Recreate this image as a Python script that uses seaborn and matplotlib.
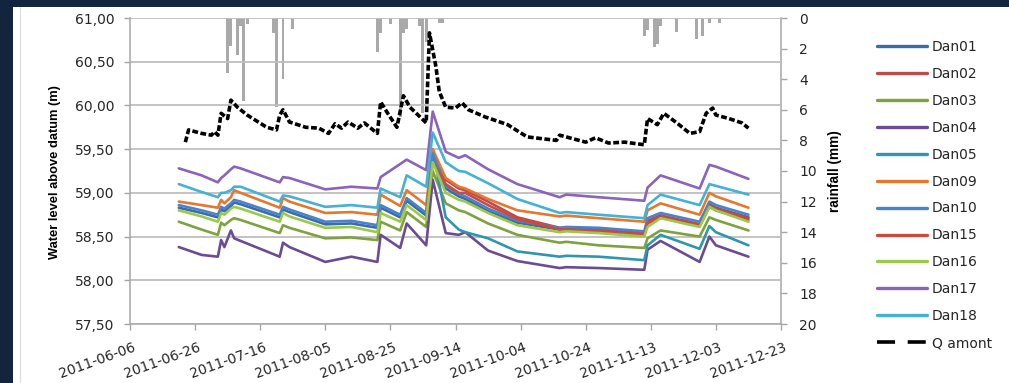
import matplotlib
matplotlib.use("Agg")
import matplotlib.pyplot as plt
import matplotlib.transforms as mtransforms
from matplotlib.lines import Line2D
from matplotlib.patches import Rectangle
import pandas as pd
import seaborn as sns

# ---------------- data ----------------
DATES = ['2011-06-21', '2011-06-28', '2011-07-03', '2011-07-04', '2011-07-05', '2011-07-07',
         '2011-07-08', '2011-07-10', '2011-07-22', '2011-07-23', '2011-07-25', '2011-08-05',
         '2011-08-13', '2011-08-21', '2011-08-22', '2011-08-28', '2011-08-30', '2011-09-05',
         '2011-09-07', '2011-09-11', '2011-09-15', '2011-09-17', '2011-09-24', '2011-10-03',
         '2011-10-16', '2011-10-18', '2011-10-28', '2011-11-11', '2011-11-12', '2011-11-16',
         '2011-11-28', '2011-12-01', '2011-12-03', '2011-12-13']

DAN01 = [58.83, 58.77, 58.72, 58.81, 58.79, 58.85, 58.89, 58.87, 58.72, 58.81, 58.78, 58.64,
         58.65, 58.60, 58.83, 58.72, 58.91, 58.74, 59.42, 59.05, 58.96, 58.93, 58.79, 58.66,
         58.58, 58.59, 58.57, 58.53, 58.68, 58.74, 58.64, 58.87, 58.83, 58.72]
DAN02 = [None, None, None, None, None, None, None, None, None, None, None, None,
         None, None, None, None, None, 58.75, 59.40, 59.15, 59.05, 59.03, 58.90, 58.72,
         58.60, 58.60, 58.58, 58.54, 58.67, 58.74, 58.64, 58.86, 58.82, 58.71]
DAN03 = [58.67, 58.58, 58.52, 58.66, 58.63, 58.69, 58.71, 58.69, 58.54, 58.63, 58.60, 58.48,
         58.49, 58.46, 58.67, 58.57, 58.78, 58.61, 59.25, 58.88, 58.80, 58.78, 58.65, 58.52,
         58.43, 58.44, 58.40, 58.37, 58.48, 58.57, 58.50, 58.72, 58.69, 58.57]
DAN04 = [58.38, 58.29, 58.27, 58.46, 58.38, 58.57, 58.48, 58.45, 58.27, 58.43, 58.38, 58.21,
         58.27, 58.21, 58.52, 58.37, 58.65, 58.40, 59.15, 58.54, 58.52, 58.55, 58.34, 58.22,
         58.14, 58.15, 58.14, 58.12, 58.35, 58.45, 58.21, 58.50, 58.40, 58.27]
DAN05 = [None, None, None, None, None, None, None, None, None, None, None, None,
         None, None, None, None, None, None, 59.50, 58.72, 58.58, 58.55, 58.48, 58.33,
         58.27, 58.28, 58.27, 58.23, 58.40, 58.52, 58.36, 58.62, 58.55, 58.40]
DAN09 = [58.90, 58.86, 58.83, 58.92, 58.88, 58.95, 59.03, 59.00, 58.83, 58.94, 58.90, 58.77,
         58.78, 58.75, 58.98, 58.85, 59.03, 58.86, 59.50, 59.17, 59.07, 59.05, 58.93, 58.80,
         58.73, 58.74, 58.71, 58.67, 58.80, 58.88, 58.75, 59.00, 58.96, 58.83]
DAN10 = [58.86, 58.80, 58.75, 58.84, 58.82, 58.88, 58.92, 58.90, 58.75, 58.84, 58.81, 58.67,
         58.68, 58.63, 58.86, 58.75, 58.94, 58.77, 59.45, 59.08, 58.99, 58.96, 58.82, 58.68,
         58.60, 58.61, 58.60, 58.56, 58.71, 58.77, 58.67, 58.90, 58.86, 58.75]
DAN15 = [None, None, None, None, None, None, None, None, None, None, None, None,
         None, None, None, None, None, 58.73, 59.35, 59.10, 59.00, 59.00, 58.86, 58.70,
         58.58, 58.58, 58.56, 58.52, 58.65, 58.72, 58.62, 58.84, 58.80, 58.69]
DAN16 = [58.80, 58.73, 58.67, 58.77, 58.75, 58.82, 58.84, 58.82, 58.67, 58.77, 58.73, 58.60,
         58.61, 58.55, 58.77, 58.67, 58.86, 58.69, 59.35, 59.00, 58.92, 58.90, 58.77, 58.63,
         58.55, 58.56, 58.54, 58.50, 58.61, 58.71, 58.61, 58.84, 58.80, 58.67]
DAN17 = [59.28, 59.20, 59.12, 59.17, 59.20, 59.27, 59.30, 59.28, 59.12, 59.18, 59.17, 59.04,
         59.07, 59.05, 59.18, 59.33, 59.38, 59.26, 59.93, 59.47, 59.40, 59.43, 59.27, 59.10,
         58.95, 58.98, 58.95, 58.91, 59.06, 59.20, 59.05, 59.32, 59.30, 59.16]
DAN18 = [59.10, 59.01, 58.95, 59.00, 59.00, 59.03, 59.07, 59.07, 58.90, 58.97, 58.96, 58.84,
         58.86, 58.83, 59.05, 58.95, 59.20, 59.07, 59.69, 59.35, 59.25, 59.24, 59.11, 58.93,
         58.77, 58.78, 58.75, 58.71, 58.86, 58.98, 58.86, 59.10, 59.08, 58.98]

Q_DATES = ['2011-06-23', '2011-06-24', '2011-06-28', '2011-07-01', '2011-07-02', '2011-07-03',
           '2011-07-04', '2011-07-06', '2011-07-07', '2011-07-09', '2011-07-12', '2011-07-18',
           '2011-07-21', '2011-07-22', '2011-07-23', '2011-07-25', '2011-07-30', '2011-08-03',
           '2011-08-06', '2011-08-08', '2011-08-10', '2011-08-12', '2011-08-15', '2011-08-17',
           '2011-08-21', '2011-08-22', '2011-08-24', '2011-08-27', '2011-08-29', '2011-08-31',
           '2011-09-05', '2011-09-06', '2011-09-08', '2011-09-09', '2011-09-11', '2011-09-14',
           '2011-09-16', '2011-09-18', '2011-09-23', '2011-09-30', '2011-10-06', '2011-10-15',
           '2011-10-16', '2011-10-24', '2011-10-27', '2011-10-31', '2011-11-05', '2011-11-11',
           '2011-11-12', '2011-11-15', '2011-11-17', '2011-11-21', '2011-11-25', '2011-11-28',
           '2011-11-30', '2011-12-02', '2011-12-03', '2011-12-07', '2011-12-11', '2011-12-13']
Q_AMONT = [59.58, 59.72, 59.68, 59.66, 59.70, 59.66,
           59.91, 59.85, 60.06, 59.98, 59.89, 59.75,
           59.72, 59.89, 59.95, 59.81, 59.75, 59.74,
           59.68, 59.79, 59.74, 59.81, 59.74, 59.80,
           59.68, 60.04, 59.92, 59.75, 60.11, 59.98,
           59.80, 60.83, 60.44, 60.16, 59.98, 59.97,
           60.03, 59.95, 59.87, 59.78, 59.64, 59.60,
           59.66, 59.58, 59.63, 59.57, 59.58, 59.55,
           59.85, 59.78, 59.91, 59.80, 59.68, 59.70,
           59.91, 59.97, 59.89, 59.85, 59.80, 59.74]

RAIN_DATES = ['2011-07-06', '2011-07-07', '2011-07-09', '2011-07-10', '2011-07-11', '2011-07-12',
              '2011-07-20', '2011-07-21', '2011-07-23', '2011-07-26', '2011-08-21', '2011-08-22',
              '2011-08-25', '2011-08-28', '2011-08-29', '2011-08-30', '2011-09-03', '2011-09-04',
              '2011-09-05', '2011-09-09', '2011-09-10', '2011-11-11', '2011-11-12', '2011-11-14',
              '2011-11-15', '2011-11-16', '2011-11-21', '2011-11-27', '2011-11-29', '2011-12-01',
              '2011-12-04']
RAIN_MM = [3.6, 1.8, 2.4, 0.5, 5.4, 0.4,
           1.0, 5.8, 4.0, 0.7, 2.2, 1.0,
           0.4, 6.5, 1.0, 0.7, 0.5, 6.2,
           1.6, 0.3, 0.3, 1.2, 0.8, 1.9,
           1.7, 0.5, 0.9, 1.4, 1.2, 0.3,
           0.3]

X_TICKS = ['2011-06-06', '2011-06-26', '2011-07-16', '2011-08-05', '2011-08-25', '2011-09-14',
           '2011-10-04', '2011-10-24', '2011-11-13', '2011-12-03', '2011-12-23']
Y_TICKS = [57.5, 58.0, 58.5, 59.0, 59.5, 60.0, 60.5, 61.0]
RAIN_TICKS = [0, 2, 4, 6, 8, 10, 12, 14, 16, 18, 20]

SERIES = {'Dan01': DAN01, 'Dan02': DAN02, 'Dan03': DAN03, 'Dan04': DAN04, 'Dan05': DAN05,
          'Dan09': DAN09, 'Dan10': DAN10, 'Dan15': DAN15, 'Dan16': DAN16, 'Dan17': DAN17,
          'Dan18': DAN18}
COLORS = {'Dan01': '#3A6BAA', 'Dan02': '#BE4B48', 'Dan03': '#7FA23F', 'Dan04': '#6B4C93',
          'Dan05': '#2E97AE', 'Dan09': '#E4782E', 'Dan10': '#4A82CC', 'Dan15': '#CD4A40',
          'Dan16': '#9BC94A', 'Dan17': '#8B64BA', 'Dan18': '#45B1D6'}

# ---------------- figure ----------------
sns.set_theme(style="white")
plt.rcParams['font.family'] = ['DejaVu Sans']

W, H = 1009, 383
fig = plt.figure(figsize=(W / 100, H / 100), dpi=100, facecolor='#13243F')
fig.patches.append(Rectangle((13 / W, 0), 1, (H - 7) / H, transform=fig.transFigure,
                             facecolor='white', edgecolor='none', zorder=-10))
fig.add_artist(Line2D([19.5 / W, 19.5 / W], [0, (H - 7) / H], color='#DADADA', lw=0.8,
                      zorder=-9))

ax = fig.add_axes([130 / W, (H - 324) / H, 651 / W, 306 / H])
ax2 = ax.twinx()
ax2.set_zorder(1)
ax.set_zorder(2)
ax.patch.set_visible(False)
ax2.patch.set_visible(False)

# rainfall bars (inverted right axis)
ax2.bar(pd.to_datetime(RAIN_DATES), RAIN_MM, width=0.9, color='#A9A9A9', linewidth=0)
ax2.set_ylim(20, 0)
ax2.set_yticks(RAIN_TICKS)
ax2.set_yticklabels([str(t) for t in RAIN_TICKS])

# water levels
dates = pd.to_datetime(DATES)
for name, vals in SERIES.items():
    df = pd.DataFrame({'date': dates, 'level': vals}).dropna()
    sns.lineplot(data=df, x='date', y='level', ax=ax, color=COLORS[name], lw=1.9,
                 legend=False, zorder=3)

qdf = pd.DataFrame({'date': pd.to_datetime(Q_DATES), 'q': Q_AMONT})
sns.lineplot(data=qdf, x='date', y='q', ax=ax, color='black', lw=2.6,
             linestyle=(0, (1.6, 0.7)), legend=False, zorder=4)

ax.set_xlim(pd.Timestamp('2011-06-06'), pd.Timestamp('2011-12-23'))
ax2.set_xlim(pd.Timestamp('2011-06-06'), pd.Timestamp('2011-12-23'))
ax.set_ylim(57.5, 61.0)
ax.set_yticks(Y_TICKS)
ax.set_yticklabels([f"{v:.2f}".replace('.', ',') for v in Y_TICKS])
ax.set_xticks(pd.to_datetime(X_TICKS))
ax.set_xticklabels(X_TICKS, rotation=20, ha='right', rotation_mode='anchor')
ax.set_xlabel('')
ax.set_ylabel('')
ax2.set_ylabel('')

ax.yaxis.grid(True, color='#BEBEBE', lw=1.3)
ax.xaxis.grid(False)
ax2.grid(False)

spine_c = '#A6A6A6'
for a in (ax, ax2):
    for s in a.spines.values():
        s.set_visible(False)
ax.spines['left'].set_visible(True)
ax.spines['bottom'].set_visible(True)
ax2.spines['right'].set_visible(True)
for s in (ax.spines['left'], ax.spines['bottom'], ax2.spines['right']):
    s.set_color(spine_c)
    s.set_linewidth(1.1)

txt_c = '#262626'
ax.tick_params(axis='y', left=True, right=False, direction='out', length=4, width=1,
               color=spine_c, pad=7, labelsize=10, labelcolor=txt_c)
ax.tick_params(axis='x', bottom=True, direction='out', length=4, width=1, color=spine_c,
               pad=8, labelsize=10, labelcolor=txt_c)
ax2.tick_params(axis='y', right=True, left=False, labelright=True, direction='out',
                length=4, width=1, color=spine_c, pad=9, labelsize=10, labelcolor=txt_c)
ax2.tick_params(axis='x', bottom=False, labelbottom=False)
offset = mtransforms.ScaledTranslation(3 / 100, 0, fig.dpi_scale_trans)
for lab in ax.get_xticklabels():
    lab.set_transform(lab.get_transform() + offset)

# axis titles
fig.text(55 / W, 1 - 172 / H, 'Water level above datum (m)', rotation=90, ha='center',
         va='center', fontsize=9.3, fontweight='bold', family='Liberation Sans', color='black')
fig.text(835 / W, 1 - 171 / H, 'rainfall (mm)', rotation=90, ha='center', va='center',
         fontsize=9.8, fontweight='bold', family='Liberation Sans', color='black')

# legend
handles = [Line2D([], [], color=COLORS[n], lw=2.4) for n in SERIES]
handles.append(Line2D([], [], color='black', lw=2.6, linestyle=(0, (5, 3.5))))
labels = list(SERIES) + ['Q amont']
fig.legend(handles, labels, loc='upper left', bbox_to_anchor=(877 / W, 1 - 40 / H),
           frameon=False, fontsize=10, handlelength=3.6, handletextpad=0.35,
           labelspacing=0.93, borderpad=0, borderaxespad=0, labelcolor=txt_c)

fig.savefig('out.png', dpi=100, facecolor=fig.get_facecolor())
